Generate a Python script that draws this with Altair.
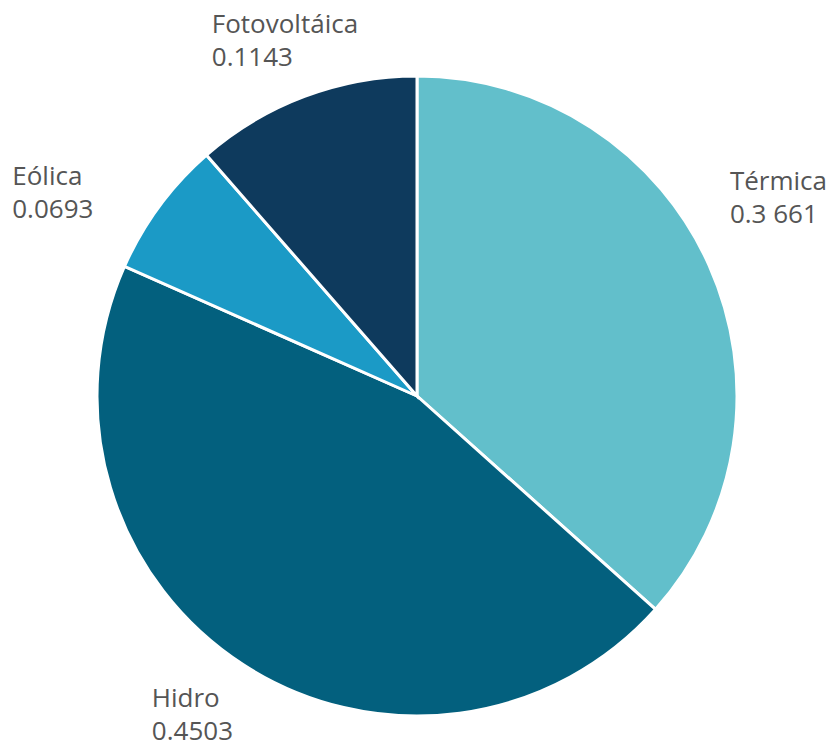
import altair as alt
import pandas as pd

categories = ["Térmica", "Hidro", "Eólica", "Fotovoltáica"]
values = [0.3661, 0.4503, 0.0693, 0.1143]
value_labels = ["0.3 661", "0.4503", "0.0693", "0.1143"]
colors = ["#62BFCB", "#03607E", "#1B9AC6", "#0E3A5D"]

df = pd.DataFrame({
    "categoria": categories,
    "valor": values,
    "etiqueta": value_labels,
    "orden": list(range(len(categories))),
})

CX, CY = 409, 388  # pie centre inside the plot area
R = 320

pie = alt.Chart(df).mark_arc(outerRadius=R, stroke="white", strokeWidth=3).encode(
    theta=alt.Theta("valor:Q", stack=True),
    order=alt.Order("orden:Q"),
    x=alt.value(CX),
    y=alt.value(CY),
    color=alt.Color("categoria:N",
                    scale=alt.Scale(domain=categories, range=colors),
                    legend=None),
)

offsets = {
    "Térmica": (-2, -86),
    "Hidro": (-78, 0),
    "Eólica": (-127, -27),
    "Fotovoltáica": (-84, -61),
}

text_base = alt.Chart(df).transform_window(
    acum="sum(valor)", sort=[alt.SortField("orden")]
).transform_joinaggregate(
    total="sum(valor)"
).transform_calculate(
    medio="(datum.acum - datum.valor / 2) / datum.total",
    texto="datum.categoria + '\\n' + datum.etiqueta",
).encode(
    theta=alt.Theta("medio:Q", stack=False, scale=alt.Scale(domain=[0, 1])),
    x=alt.value(CX),
    y=alt.value(CY),
    text="texto:N",
)

layers = [pie]
for cat in categories:
    dx, dy = offsets[cat]
    layers.append(
        text_base.transform_filter(alt.datum.categoria == cat).mark_text(
            radius=345, align="left", baseline="top", dx=dx, dy=dy,
            font="Open Sans", fontSize=26, fontWeight=500, color="#555555",
            lineBreak="\n", lineHeight=33,
        )
    )

chart = alt.layer(*layers).resolve_scale(theta="independent").properties(
    width=820, height=737, padding=0,
    autosize=alt.AutoSizeParams(type="none"),
).configure_view(stroke=None)

chart.save("out.html", embed_options={"renderer": "svg", "actions": False})
